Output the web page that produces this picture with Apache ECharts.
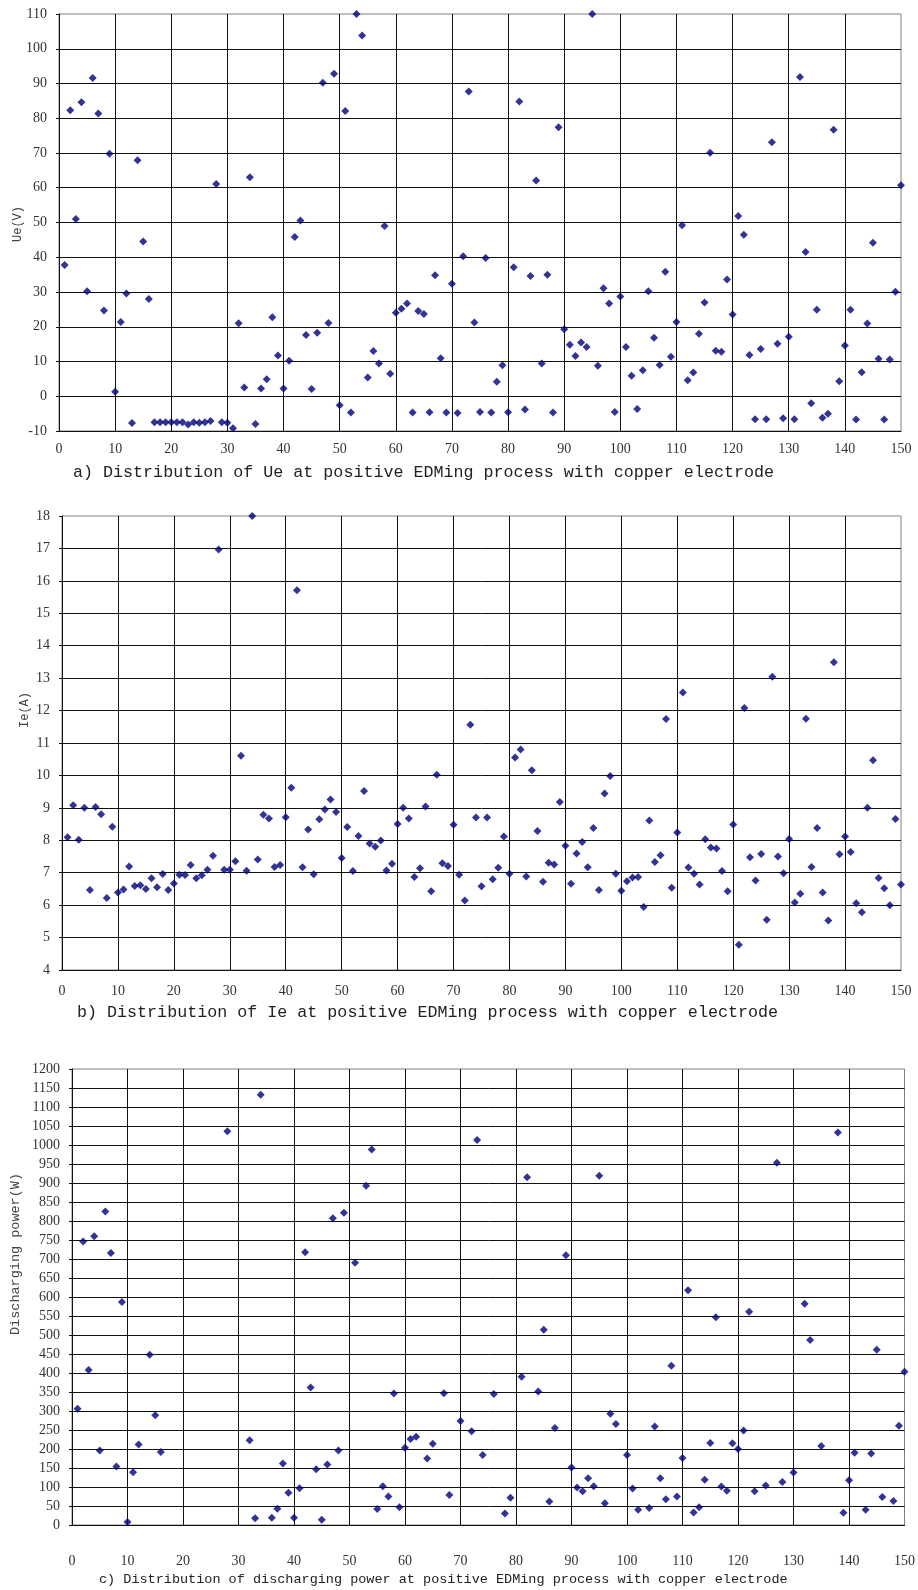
<!DOCTYPE html>
<html><head><meta charset="utf-8">
<script src="https://cdn.jsdelivr.net/npm/echarts@6/dist/echarts.min.js"></script>
<style>html,body{margin:0;padding:0;background:#fff}#c{width:918px;height:1590px}</style>
</head><body><div id="c"></div>
<script>
// Sample index runs 1..150
const sampleCount = 150;

// a) Ue (V)
const ueValues = [
  37.8, 82.3, 51.0, 84.6, 30.2, 91.6, 81.4, 24.7, 69.8, 1.3,
  21.4, 29.6, -7.7, 67.9, 44.5, 28.0, -7.5, -7.5, -7.5, -7.5,
  -7.5, -7.5, -8.1, -7.5, -7.6, -7.5, -7.1, 61.1, -7.5, -7.6,
  -9.2, 21.0, 2.5, 63.0, -8.0, 2.2, 4.9, 22.7, 11.7, 2.2,
  10.2, 45.8, 50.6, 17.6, 2.1, 18.3, 90.2, 21.1, 92.8, -2.6,
  82.1, -4.7, 110, 103.8, 5.4, 13.0, 9.4, 49.0, 6.5, 24.0,
  25.2, 26.7, -4.7, 24.5, 23.7, -4.6, 34.8, 10.9, -4.7, 32.4,
  -4.8, 40.3, 87.7, 21.2, -4.5, 39.8, -4.7, 4.2, 8.9, -4.6,
  37.1, 84.8, -3.8, 34.6, 62.1, 9.4, 35.0, -4.7, 77.4, 19.3,
  14.8, 11.6, 15.5, 14.2, 110, 8.8, 31.1, 26.7, -4.5, 28.7,
  14.2, 5.9, -3.7, 7.5, 30.2, 16.8, 9.0, 35.8, 11.4, 21.4,
  49.2, 4.6, 6.8, 18.0, 27.0, 70.1, 13.1, 12.8, 33.6, 23.5,
  51.9, 46.5, 11.9, -6.6, 13.6, -6.6, 73.1, 15.1, -6.3, 17.1,
  -6.6, 91.9, 41.5, -2.0, 24.9, -6.2, -5.0, 76.7, 4.3, 14.6,
  24.9, -6.7, 6.9, 20.9, 44.2, 10.8, -6.7, 10.6, 30.1, 60.7
];

// b) Ie (A)
const ieValues = [
  8.09, 9.08, 8.02, 9.00, 6.47, 9.03, 8.80, 6.22, 8.42, 6.39,
  6.48, 7.19, 6.59, 6.61, 6.50, 6.83, 6.55, 6.96, 6.47, 6.67,
  6.94, 6.93, 7.24, 6.83, 6.92, 7.09, 7.52, 16.97, 7.09, 7.09,
  7.35, 10.61, 7.06, 18.0, 7.41, 8.79, 8.67, 7.18, 7.24, 8.71,
  9.62, 15.71, 7.17, 8.33, 6.95, 8.65, 8.95, 9.26, 8.87, 7.45,
  8.41, 7.05, 8.13, 9.52, 7.90, 7.80, 7.99, 7.07, 7.28, 8.50,
  9.00, 8.67, 6.87, 7.14, 9.04, 6.43, 10.02, 7.29, 7.21, 8.48,
  6.94, 6.14, 11.56, 8.70, 6.58, 8.70, 6.80, 7.15, 8.12, 6.97,
  10.55, 10.80, 6.88, 10.16, 8.29, 6.72, 7.31, 7.25, 9.18, 7.83,
  6.66, 7.59, 7.95, 7.17, 8.38, 6.47, 9.44, 9.98, 6.97, 6.44,
  6.74, 6.85, 6.87, 5.94, 8.61, 7.33, 7.54, 11.74, 6.54, 8.24,
  12.56, 7.16, 6.97, 6.64, 8.03, 7.78, 7.75, 7.05, 6.43, 8.49,
  4.78, 12.08, 7.48, 6.76, 7.58, 5.55, 13.04, 7.50, 6.98, 8.04,
  6.08, 6.35, 11.75, 7.18, 8.38, 6.39, 5.53, 13.49, 7.57, 8.12,
  7.64, 6.06, 5.78, 9.00, 10.47, 6.84, 6.52, 6.00, 8.66, 6.64
];

// c) Discharging power (W); null = not plotted (negative)
const powerValues = [
  306, 746, 408, 760, 196, 825, 716, 154, 587, 8,
  139, 212, null, 448, 289, 192, null, null, null, null,
  null, null, null, null, null, null, null, 1036, null, null,
  null, 223, 18, 1132, null, 19, 43, 162, 85, 19,
  97, 718, 362, 147, 14, 159, 807, 196, 822, null,
  690, null, 893, 988, 42, 102, 75, 346, 47, 203,
  226, 232, null, 175, 214, null, 347, 79, null, 274,
  null, 247, 1013, 184, null, 345, null, 30, 72, null,
  390, 915, null, 351, 514, 62, 255, null, 710, 151,
  99, 89, 123, 102, 919, 57, 293, 266, null, 184,
  96, 40, null, 45, 259, 123, 68, 419, 75, 176,
  618, 33, 47, 119, 216, 547, 101, 90, 215, 200,
  249, 561, 89, null, 104, null, 953, 113, null, 138,
  null, 582, 487, null, 208, null, null, 1033, 32, 118,
  190, null, 40, 188, 461, 74, null, 63, 261, 403
];

// axis ranges [min, max, interval]
const xRange = [0, 150, 10];
const ueRange = [-10, 110, 10];
const ieRange = [4, 18, 1];
const powerRange = [0, 1200, 50];

const captions = [
  'a) Distribution of Ue at positive EDMing process with copper electrode',
  'b) Distribution of Ie at positive EDMing process with copper electrode',
  'c) Distribution of discharging power at positive EDMing process with copper electrode'
];
const yNames = ['Ue(V)', 'Ie(A)', 'Discharging power(W)'];

function toPoints(arr) {
  const out = [];
  arr.forEach((v, i) => { if (v !== null) out.push([i + 1, v]); });
  return out;
}

const LINE = '#111';
const BORDER = '#808080';
const LABEL = '#333';
const SERIF = '"Liberation Serif", "DejaVu Serif", serif';
const MONO = '"Liberation Mono", "DejaVu Sans Mono", monospace';
const plain = v => String(v);

function xAxisFor(gi, margin) {
  return {
    type: 'value', gridIndex: gi, min: xRange[0], max: xRange[1], interval: xRange[2],
    axisLine: { show: true, onZero: false, lineStyle: { color: LINE, width: 1 } },
    axisTick: { show: false },
    axisLabel: { margin: margin, fontFamily: SERIF, fontSize: 14, color: LABEL, formatter: plain },
    splitLine: { show: true, showMaxLine: false, lineStyle: { color: LINE, width: 1 } }
  };
}
function yAxisFor(gi, r) {
  return {
    type: 'value', gridIndex: gi, min: r[0], max: r[1], interval: r[2],
    axisLine: { show: true, onZero: false, lineStyle: { color: LINE, width: 1 } },
    axisTick: { show: true, inside: false, length: 3, lineStyle: { color: LINE } },
    axisLabel: { margin: 12, fontFamily: SERIF, fontSize: 14, color: LABEL, formatter: plain },
    splitLine: { show: true, showMaxLine: false, lineStyle: { color: LINE, width: 1 } }
  };
}
function scatter(gi, data) {
  return {
    type: 'scatter', xAxisIndex: gi, yAxisIndex: gi, data: data,
    symbol: 'diamond', symbolSize: 8, clip: false,
    itemStyle: { color: '#00007a' }
  };
}
function vText(text, x, y, size) {
  return { type: 'text', x: x, y: y, rotation: Math.PI / 2,
    style: { text: text, font: size + 'px ' + MONO, fill: '#444', align: 'center', verticalAlign: 'middle' } };
}
function hText(text, x, y, size) {
  return { type: 'text', x: x, y: y,
    style: { text: text, font: size + 'px ' + MONO, fill: '#222', align: 'left', verticalAlign: 'middle' } };
}

const chart = echarts.init(document.getElementById('c'), null, { renderer: 'canvas' });
chart.setOption({
  animation: false,
  backgroundColor: '#fff',
  grid: [
    { left: 59, top: 14, width: 842, height: 417, show: true, borderColor: BORDER, borderWidth: 1 },
    { left: 62, top: 516, width: 839, height: 454, show: true, borderColor: BORDER, borderWidth: 1 },
    { left: 72, top: 1069, width: 834, height: 456, show: true, borderColor: BORDER, borderWidth: 1 }
  ],
  xAxis: [xAxisFor(0, 11), xAxisFor(1, 14), xAxisFor(2, 29)],
  yAxis: [yAxisFor(0, ueRange), yAxisFor(1, ieRange), yAxisFor(2, powerRange)],
  series: [
    scatter(0, toPoints(ueValues)),
    scatter(1, toPoints(ieValues)),
    scatter(2, toPoints(powerValues))
  ],
  graphic: [
    vText(yNames[0], 18, 224, 12),
    vText(yNames[1], 25, 710, 12),
    vText(yNames[2], 15, 1254, 13.5),
    hText(captions[0], 73, 473, 16.7),
    hText(captions[1], 77, 1013, 16.7),
    hText(captions[2], 99, 1579, 13.5)
  ]
});
</script>
</body></html>
